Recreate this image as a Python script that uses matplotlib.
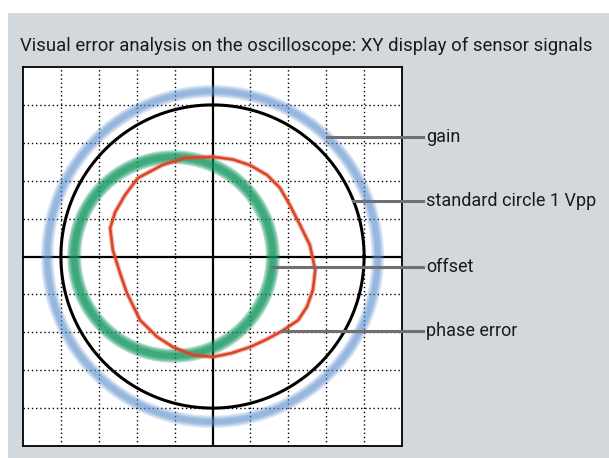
import numpy as np
import matplotlib
matplotlib.use('Agg')
from matplotlib import pyplot as plt
from matplotlib.patches import Rectangle

plt.rcParams['font.family'] = ['Roboto', 'DejaVu Sans']

# Werte in Rasterteilungen (Bildschirm 10 x 10 Teilungen, Mitte = 0)
title = "Visual error analysis on the oscilloscope: XY display of sensor signals"
standard_radius = 4.0
gain_radius = 4.36
offset_center = (-1.03, 0.0)
offset_radius = 2.62

phase_x = [0.01, 0.54, 0.99, 1.44, 1.78, 2.04, 2.31, 2.57, 2.71, 2.65, 2.49, 2.26,
           1.83, 1.40, 0.99, 0.50, 0.01, -0.51, -1.04, -1.46, -1.91, -2.26, -2.44,
           -2.63, -2.70, -2.57, -2.31, -1.97, -1.33, -0.73, 0.01]
phase_y = [2.63, 2.56, 2.41, 2.15, 1.81, 1.36, 0.83, 0.30, -0.36, -0.88, -1.33, -1.68,
           -1.97, -2.20, -2.39, -2.55, -2.65, -2.60, -2.39, -2.12, -1.68, -0.96, -0.44,
           0.17, 0.75, 1.17, 1.62, 2.07, 2.41, 2.60, 2.63]

labels = ["gain", "standard circle 1 Vpp", "offset", "phase error"]
label_y = [3.15, 1.46, -0.28, -1.97]
label_x0 = [3.01, 3.72, 1.575, 1.83]

fig = plt.figure(figsize=(6.09, 4.58), dpi=100)
fig.patches.append(Rectangle((8 / 609, 0), 1, 1 - 13 / 458, transform=fig.transFigure,
                             facecolor='#d3d8dc', edgecolor='none', zorder=-10))

ax = fig.add_axes([23 / 609, 12 / 458, 379 / 609, 379 / 458])
ax.set_xlim(-5, 5)
ax.set_ylim(-5, 5)
ax.set_facecolor('white')
ax.set_xticks([])
ax.set_yticks([])
for s in ax.spines.values():
    s.set_linewidth(1.3)
    s.set_color('black')

# Raster
for v in range(-4, 5):
    if v == 0:
        continue
    ax.axvline(v, color='black', lw=1.0, ls=(0, (1, 2)), zorder=1)
    ax.axhline(v, color='black', lw=1.0, ls=(0, (1, 2)), zorder=1)
ax.axvline(0, color='black', lw=1.6, zorder=2)
ax.axhline(0, color='black', lw=1.6, zorder=2)

t = np.linspace(0, 2 * np.pi, 400)


def blurry(xc, yc, r, color, widths, alpha):
    for w in widths:
        ax.plot(xc + r * np.cos(t), yc + r * np.sin(t), color=color, lw=w,
                alpha=alpha, solid_capstyle='round', zorder=3)


# gain (blau, unscharf)
blurry(0, 0, gain_radius, '#5b8fcf', [9, 7, 5, 3.5], 0.22)
# Standardkreis
ax.plot(standard_radius * np.cos(t), standard_radius * np.sin(t), color='black', lw=2.2, zorder=5)
# offset (grün, unscharf)
blurry(offset_center[0], offset_center[1], offset_radius, '#0f955f', [10, 8, 6, 4], 0.33)
# Phasenfehler (rot)
ax.plot(phase_x, phase_y, color='#e0553a', lw=3.6, alpha=0.35, zorder=4,
        solid_joinstyle='round')
ax.plot(phase_x, phase_y, color='#db4528', lw=1.9, zorder=4, solid_joinstyle='round')

# Beschriftungen
x_end = (423 - 212.5) / 37.9
x_txt = (426 - 212.5) / 37.9
for lab, y, x0 in zip(labels, label_y, label_x0):
    ax.plot([x0, x_end], [y, y], color='#707070', lw=2.2, clip_on=False, zorder=6)
    ax.text(x_txt, y, lab, fontsize=13, va='center', ha='left', color='#1a1a1a',
            clip_on=False)

fig.text(20 / 609, 1 - 51 / 458, title, fontsize=13.3, va='baseline', ha='left', color='#1a1a1a')

fig.savefig('out.png', dpi=100)
